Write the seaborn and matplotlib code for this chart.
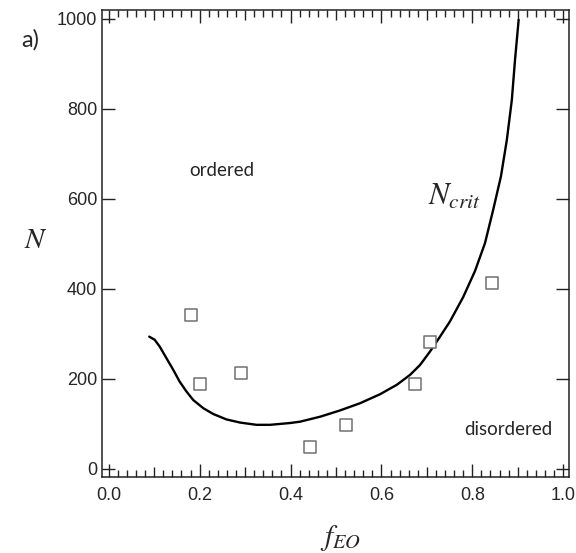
import matplotlib
matplotlib.use("Agg")
import matplotlib.pyplot as plt
from matplotlib.ticker import MultipleLocator
import pandas as pd
import seaborn as sns

# critical curve
f_crit = [0.089, 0.101, 0.112, 0.127, 0.142, 0.156, 0.171, 0.186, 0.208, 0.230,
          0.259, 0.289, 0.325, 0.355, 0.377, 0.399, 0.421, 0.465, 0.509, 0.553,
          0.597, 0.634, 0.663, 0.685, 0.707, 0.729, 0.751, 0.780, 0.806, 0.828,
          0.846, 0.863, 0.876, 0.887, 0.894, 0.902]
n_crit = [294, 287, 272, 246, 220, 194, 172, 153, 135, 122,
          110, 103, 98, 98, 100, 102, 105, 116, 130, 146,
          166, 187, 209, 231, 261, 294, 328, 382, 440, 502,
          576, 650, 731, 820, 909, 998]

# measured samples
f_eo = [0.180, 0.200, 0.292, 0.443, 0.523, 0.675, 0.707, 0.843]
n_samples = [342, 189, 214, 49, 98, 189, 281, 414]

x_ticks = [0.0, 0.2, 0.4, 0.6, 0.8, 1.0]
y_ticks = [0, 200, 400, 600, 800, 1000]

sns.set_theme(style="ticks")
plt.rcParams["font.family"] = ["Liberation Sans", "DejaVu Sans"]
plt.rcParams["mathtext.fontset"] = "stix"

curve = pd.DataFrame({"f": f_crit, "N": n_crit})
pts = pd.DataFrame({"f": f_eo, "N": n_samples})

fig = plt.figure(figsize=(5.76, 5.53), dpi=100)
ax = fig.add_axes([0.177, 0.1374, 0.811, 0.8446])

sns.lineplot(data=curve, x="f", y="N", sort=False, color="black", lw=1.7, ax=ax)
sns.scatterplot(data=pts, x="f", y="N", marker="s", s=78, facecolor="white",
                edgecolor="#707070", linewidth=1.1, ax=ax, zorder=3)

ax.set_xlim(-0.015, 1.013)
ax.set_ylim(-18, 1020)
ax.set_xticks(x_ticks)
ax.set_yticks(y_ticks)
ax.set_xticklabels([f"{v:.1f}" for v in x_ticks])
ax.xaxis.set_minor_locator(MultipleLocator(0.02))
ax.yaxis.set_minor_locator(plt.NullLocator())

ax.tick_params(axis="both", which="both", direction="in", top=True, right=True,
               color="#222222", width=1.0)
ax.tick_params(axis="both", which="major", length=9.4, labelsize=13)
ax.tick_params(axis="x", which="major", pad=7)
ax.tick_params(axis="y", which="major", pad=3.5)
ax.tick_params(axis="x", which="minor", length=5)

# the ticks at odd tenths are a bit longer than the other minor ticks
for loc, tk in zip(ax.xaxis.get_minorticklocs(), ax.xaxis.get_minor_ticks()):
    if abs(loc * 10 - round(loc * 10)) < 1e-6:
        tk.tick1line.set_markersize(7.2)
        tk.tick2line.set_markersize(7.2)

for sp in ax.spines.values():
    sp.set_linewidth(1.1)
    sp.set_color("#222222")

ax.set_xlabel("$f_{EO}$", fontsize=21)
ax.set_ylabel("$N$", fontsize=21, rotation=0, ha="center", va="center")
ax.xaxis.set_label_coords(0.51, -0.098)
ax.yaxis.set_label_coords(-0.141, 0.507)

ax.text(0.249, 664, "ordered", fontsize=13.5, ha="center", va="center", family="Lato")
ax.text(0.879, 87, "disordered", fontsize=13.5, ha="center", va="center", family="Lato")
ax.text(0.76, 605, "$N_{crit}$", fontsize=22, ha="center", va="center")

fig.text(30 / 576, 1 - 40 / 553, "a)", fontsize=17, ha="center", va="center", family="Lato")

fig.savefig("out.png", dpi=100)
